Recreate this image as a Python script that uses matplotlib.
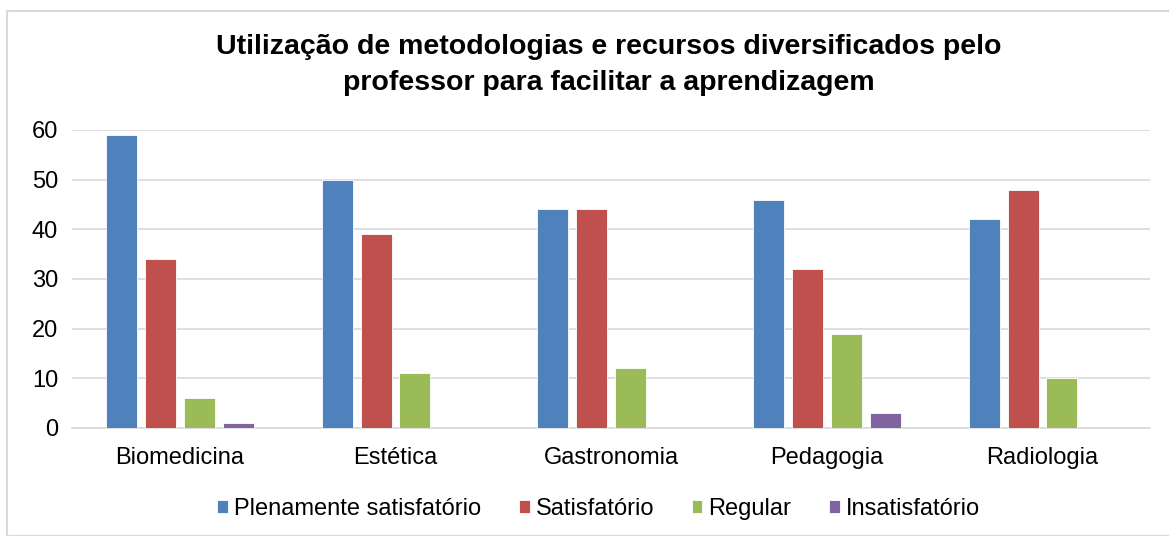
import numpy as np
import matplotlib.pyplot as plt
from matplotlib.patches import Rectangle

plt.rcParams['font.family'] = ['Liberation Sans', 'DejaVu Sans']

cursos = ['Biomedicina', 'Estética', 'Gastronomia', 'Pedagogia', 'Radiologia']
series = ['Plenamente satisfatório', 'Satisfatório', 'Regular', 'Insatisfatório']
plenamente = [59, 50, 44, 46, 42]
satisfatorio = [34, 39, 44, 32, 48]
regular = [6, 11, 12, 19, 10]
insatisfatorio = [1, 0, 0, 3, 0]
cores = ['#4F81BD', '#C0504D', '#9BBB59', '#8064A2']

valores = [plenamente, satisfatorio, regular, insatisfatorio]

fig = plt.figure(figsize=(11.69, 5.36), dpi=100)
ax = fig.add_axes([0.0616, 0.2015, 0.9224, 0.556])

x = np.arange(len(cursos))
slot = 0.18
largura = 0.144
for i, (nome, vals, cor) in enumerate(zip(series, valores, cores)):
    pos = x + (i - 1.5) * slot
    ax.bar(pos, vals, largura, color=cor, label=nome, edgecolor='white',
           linewidth=0.6, zorder=3)

ax.set_xlim(-0.5, len(cursos) - 0.5)
ax.set_ylim(0, 60)
ax.set_yticks(range(0, 61, 10))
ax.set_xticks(x)
ax.set_xticklabels(cursos)
ax.tick_params(axis='both', length=0, labelsize=17, colors='black')
ax.tick_params(axis='y', pad=10)
ax.tick_params(axis='x', pad=14)
ax.grid(axis='y', color='#D9D9D9', linewidth=1.2, zorder=0)
for s in ['top', 'right', 'left']:
    ax.spines[s].set_visible(False)
ax.spines['bottom'].set_color('#D9D9D9')
ax.spines['bottom'].set_linewidth(1.2)

fig.text(0.521, 0.879, 'Utilização de metodologias e recursos diversificados pelo\n'
         'professor para facilitar a aprendizagem',
         ha='center', va='center', fontsize=20.5, fontweight='bold', linespacing=1.5)

fig.legend(loc='center', bbox_to_anchor=(0.512, 0.05), ncol=4, frameon=False,
           fontsize=17, handlelength=0.45, handleheight=0.45, handletextpad=0.25,
           columnspacing=1.6)

fig.patches.append(Rectangle((7 / 1169, 0), 1.0, 1 - 11 / 536,
                             transform=fig.transFigure, fill=False,
                             edgecolor='#D9D9D9', linewidth=1.5))

fig.savefig('out.png', dpi=100)
